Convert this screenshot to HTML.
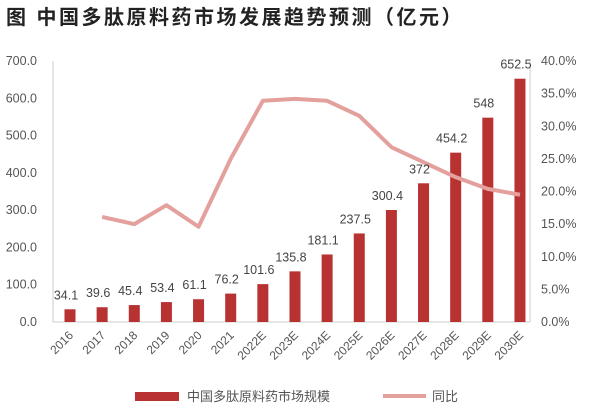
<!DOCTYPE html>
<html><head><meta charset="utf-8"><style>
body{margin:0;background:#fff;}
svg{display:block;font-family:"Liberation Sans","Noto Sans CJK SC",sans-serif;}
</style></head><body>
<svg id="chart" width="600" height="410">
<text x="6" y="24" font-size="20" font-weight="bold" letter-spacing="2.5" fill="#222">图 中国多肽原料药市场发展趋势预测（亿元）</text>
<g id="axes"></g><g id="bars"></g><g id="line"></g><g id="labels"></g>
<g>
<rect x="135" y="392" width="44" height="9" fill="#b83232"/>
<text x="187" y="401" font-size="13" fill="#555">中国多肽原料药市场规模</text>
<line x1="383" y1="396" x2="426" y2="396" stroke="#e3a09c" stroke-width="4"/>
<text x="432" y="401" font-size="13" fill="#555">同比</text>
</g>
</svg>
<script>
const categories=["2016","2017","2018","2019","2020","2021","2022E","2023E","2024E","2025E","2026E","2027E","2028E","2029E","2030E"];
const marketSize=[34.1,39.6,45.4,53.4,61.1,76.2,101.6,135.8,181.1,237.5,300.4,372,454.2,548,652.5];
const sizeLabels=["34.1","39.6","45.4","53.4","61.1","76.2","101.6","135.8","181.1","237.5","300.4","372","454.2","548","652.5"];
const growth=[null,16.1,15.0,17.9,14.6,25.0,33.9,34.2,33.9,31.6,26.8,24.5,22.2,20.4,19.5];
const leftTicks=["0.0","100.0","200.0","300.0","400.0","500.0","600.0","700.0"];
const rightTicks=["0.0%","5.0%","10.0%","15.0%","20.0%","25.0%","30.0%","35.0%","40.0%"];
const NS="http://www.w3.org/2000/svg";
const y0=322,yTop=61,xL=53,xR=530,x0=70,dx=32.14;
const yL=v=>y0-(v/700)*(y0-yTop);
const yR=v=>y0-(v/40)*(y0-yTop);
const xC=i=>x0+i*dx;
function mk(tag,attrs,parent,txt){const e=document.createElementNS(NS,tag);for(const k in attrs)e.setAttribute(k,attrs[k]);if(txt!=null)e.textContent=txt;document.getElementById(parent).appendChild(e);return e;}
let e;
e=mk("line",{x1:xL,y1:yTop,x2:xL,y2:y0,stroke:"#ccc"},"axes");


e=mk("line",{x1:xR,y1:yTop,x2:xR,y2:y0,stroke:"#ccc"},"axes");


e=mk("line",{x1:xL,y1:y0,x2:xR,y2:y0,stroke:"#ccc"},"axes");


leftTicks.forEach((t,i)=>{
  e=mk("text",{x:37,y:yL(i*100)+4,"font-size":12.5,fill:"#555","text-anchor":"end"},"axes",t);
  
  
});
rightTicks.forEach((t,i)=>{
  e=mk("text",{x:541,y:yR(i*5)+4,"font-size":12.5,fill:"#555"},"axes",t);
  
  
});
categories.forEach((c,i)=>{
  const x=xC(i);
  e=mk("rect",{x:x-5.5,y:yL(marketSize[i]),width:11,height:y0-yL(marketSize[i]),fill:"#b83232"},"bars");
  
  
  e=mk("text",{x:x+4,y:336,"font-size":12,fill:"#555","text-anchor":"end",transform:`rotate(-45 ${x+4} 336)`},"axes",c);
  
  
  e=mk("text",{x:x-4,y:yL(marketSize[i])-10,"font-size":12.5,fill:"#444","text-anchor":"middle"},"labels",sizeLabels[i]);
  
  
});
let pts=[];growth.forEach((g,i)=>{if(g!=null)pts.push(xC(i)+","+yR(g));});
e=mk("polyline",{points:pts.join(" "),fill:"none",stroke:"#e3a09c","stroke-width":4,"stroke-linejoin":"round"},"line");


</script>
</body></html>
